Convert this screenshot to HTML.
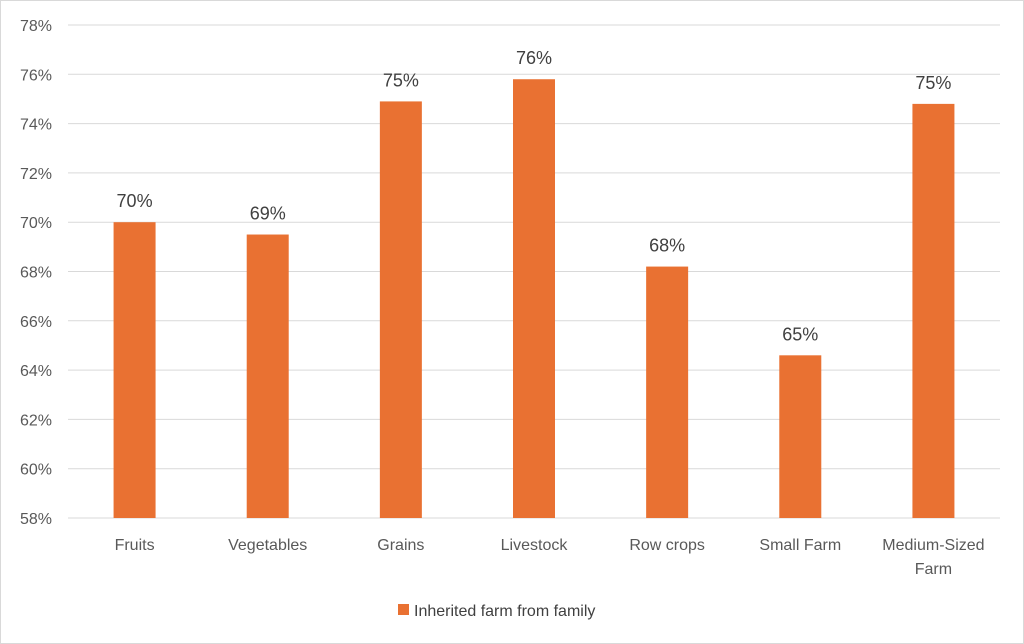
<!DOCTYPE html>
<html><head><meta charset="utf-8"><style>
body{margin:0;background:#fff;}
svg{display:block;font-family:"Liberation Sans",sans-serif;}
</style></head><body>
<svg id="chart" width="1024" height="644">
<rect x="0.5" y="0.5" width="1023" height="643" fill="#fff" stroke="#d9d9d9"/>
<g id="grid"></g><g id="bars"></g><g id="labels"></g>
<g>
<rect x="398" y="604" width="11" height="11" fill="#E97132"/>
<text x="414" y="616" font-size="16" fill="#404040">Inherited farm from family</text>
</g>
</svg>
<script>
const categories=[["Fruits"],["Vegetables"],["Grains"],["Livestock"],["Row crops"],["Small Farm"],["Medium-Sized","Farm"]];
const values=[70.0,69.5,74.9,75.8,68.2,64.6,74.8];
const valueLabels=["70%","69%","75%","76%","68%","65%","75%"];
const ticks=[58,60,62,64,66,68,70,72,74,76,78];
const ns="http://www.w3.org/2000/svg";
const x0=68,x1=1000,yMin=58,yMax=78,yTop=25,yBot=518;
const y=v=>yBot-(v-yMin)/(yMax-yMin)*(yBot-yTop);
const band=(x1-x0)/categories.length;
const xc=i=>x0+band*(i+0.5);
function mk(t,a,p){const e=document.createElementNS(ns,t);for(const k in a)e.setAttribute(k,a[k]);p.appendChild(e);return e;}
const grid=document.getElementById('grid'),bars=document.getElementById('bars'),labels=document.getElementById('labels');
ticks.forEach(t=>{
 const l=mk('line',{x1:x0,x2:x1,y1:y(t),y2:y(t),stroke:'#d9d9d9','stroke-width':1},grid);
 
 
 const tx=mk('text',{x:52,y:y(t)+6,'text-anchor':'end','font-size':16,fill:'#595959'},grid);
 tx.textContent=t+'%';
 
 
});
values.forEach((v,i)=>{
 const r=mk('rect',{x:xc(i)-21,y:y(v),width:42,height:yBot-y(v),fill:'#E97132'},bars);
 
 
 const t=mk('text',{x:xc(i),y:y(v)-15,'text-anchor':'middle','font-size':18,fill:'#404040'},labels);
 t.textContent=valueLabels[i];
 
 
 categories[i].forEach((line,j)=>{
  const c=mk('text',{x:xc(i),y:550+j*24,'text-anchor':'middle','font-size':16,fill:'#595959'},labels);
  c.textContent=line;
  
  
 });
});
</script>
</body></html>
